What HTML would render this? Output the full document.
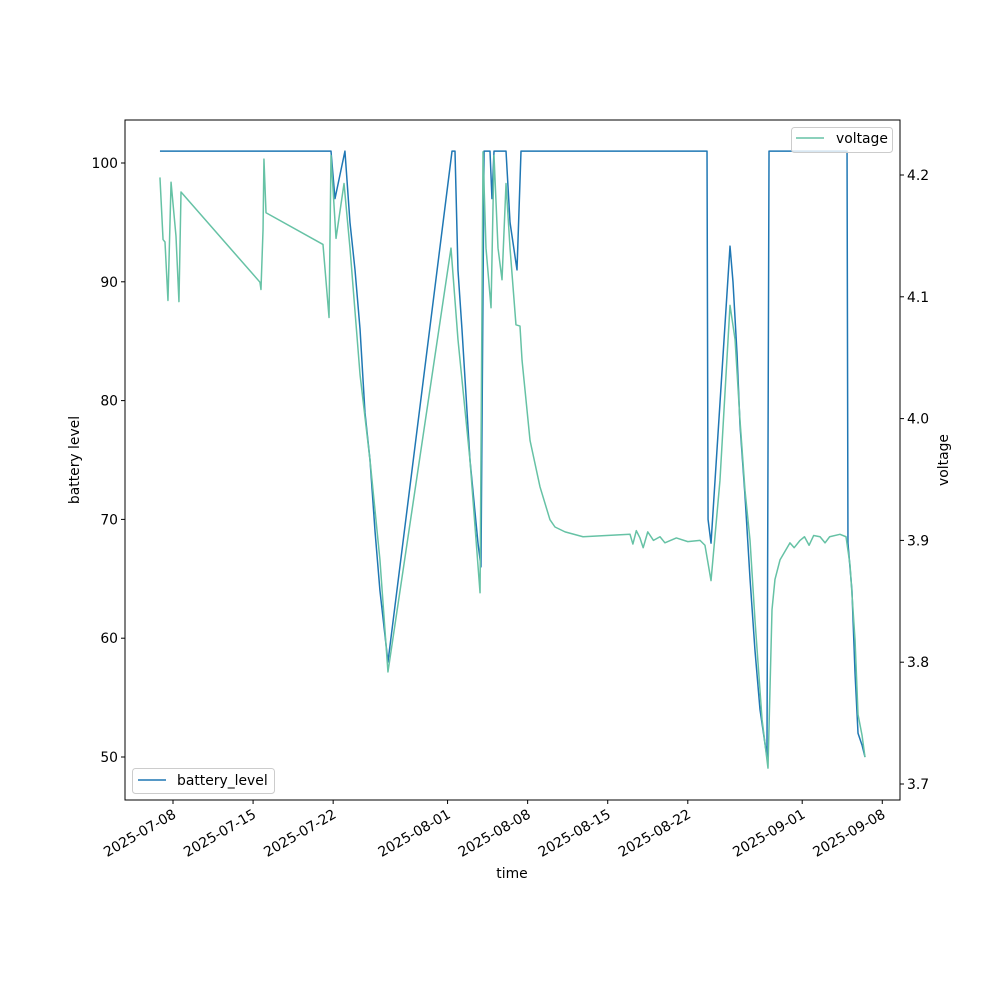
<!DOCTYPE html>
<html><head><meta charset="utf-8"><style>
body{margin:0;background:#fff}
svg{display:block;font-family:"DejaVu Sans","Liberation Sans",sans-serif}
</style></head><body>
<svg id="chart" width="1000" height="1000">
<rect width="1000" height="1000" fill="#fff"/>
<g id="plot"></g>
</svg>
<script>
const xTickDays=[0,7,14,24,31,38,45,55,62];
const xTickLabels=["2025-07-08","2025-07-15","2025-07-22","2025-08-01","2025-08-08","2025-08-15","2025-08-22","2025-09-01","2025-09-08"];
const leftTicks=[50,60,70,80,90,100];
const rightTicks=[3.7,3.8,3.9,4.0,4.1,4.2];
const batDays=[-1.14,13.81,14.16,15.03,15.47,15.91,16.35,16.78,17.22,17.66,18.09,18.79,24.39,24.65,24.91,25.26,25.96,26.66,26.92,27.19,27.71,27.88,28.06,29.11,29.46,30.07,30.42,46.68,46.77,47.03,48.69,48.95,49.30,49.56,50.00,50.44,50.87,51.31,51.92,52.10,58.92,59.00,59.35,59.62,59.88,60.23,60.49];
const batVals=[101,101,97,101,95,91,86,79,75,69,64,58,101,101,91,86,75,68,66,101,101,97,101,101,95,91,101,101,70,68,93,90,84,78,72,65,59,54,50,101,101,68,64,57,52,51,50];
const voltDays=[-1.14,-0.87,-0.70,-0.44,-0.17,0.26,0.52,0.70,7.60,7.69,7.87,7.95,8.13,13.11,13.64,13.81,14.25,14.95,15.47,16.35,17.22,18.09,18.79,24.30,24.91,25.96,26.84,27.10,27.36,27.80,28.06,28.41,28.76,29.11,29.46,29.98,30.33,30.51,31.21,32.08,32.95,33.39,34.27,35.84,39.95,40.2,40.5,40.82,41.1,41.5,42.0,42.57,43.0,44.0,45.0,46.07,46.50,47.03,47.81,48.69,49.13,49.56,50.00,50.44,50.87,51.49,52.01,52.36,52.62,53.06,53.93,54.3,54.81,55.2,55.6,56.0,56.56,57.0,57.4,58.30,58.83,59.18,59.62,59.88,60.23,60.49];
const voltVals=[4.198,4.147,4.145,4.097,4.194,4.15,4.096,4.186,4.112,4.106,4.155,4.213,4.169,4.143,4.083,4.216,4.148,4.193,4.14,4.036,3.966,3.884,3.792,4.140,4.065,3.966,3.857,4.219,4.14,4.091,4.216,4.14,4.114,4.193,4.14,4.077,4.076,4.048,3.982,3.944,3.917,3.911,3.907,3.903,3.905,3.897,3.908,3.902,3.894,3.907,3.900,3.903,3.898,3.902,3.899,3.900,3.896,3.867,3.949,4.093,4.065,3.999,3.941,3.900,3.835,3.753,3.713,3.843,3.868,3.884,3.898,3.894,3.900,3.903,3.896,3.904,3.903,3.898,3.903,3.905,3.903,3.880,3.818,3.757,3.740,3.722];

const L=125,R=900,T=120,B=800;
const xS=d=>173+d*11.44;
const yL=v=>163+(100-v)*11.88;
const yR=v=>175+(4.2-v)*1218;
const NS="http://www.w3.org/2000/svg";
const g=document.getElementById('plot');
function el(t,a,txt){const e=document.createElementNS(NS,t);for(const k in a)e.setAttribute(k,a[k]);if(txt!=null)e.textContent=txt;g.appendChild(e);return e;}
const FS=13.9;

const bl=el('polyline',{points:batDays.map((d,i)=>xS(d)+','+yL(batVals[i])).join(' '),fill:'none',stroke:'#1f77b4','stroke-width':1.5,'stroke-linejoin':'round'});


const vl=el('polyline',{points:voltDays.map((d,i)=>xS(d)+','+yR(voltVals[i])).join(' '),fill:'none',stroke:'#66c2a5','stroke-width':1.5,'stroke-linejoin':'round'});



const fr=el('rect',{x:L,y:T,width:R-L,height:B-T,fill:'none',stroke:'#000','stroke-width':1});



xTickDays.forEach((d,i)=>{const x=xS(d);
 el('line',{x1:x,x2:x,y1:B,y2:B+4,stroke:'#000'});
 const t=el('text',{x:x,y:B+18,'font-size':FS,'text-anchor':'end',transform:`rotate(-30 ${x} ${B+10})`},xTickLabels[i]);
 
 
});
leftTicks.forEach(v=>{const y=yL(v);
 el('line',{x1:L-4,x2:L,y1:y,y2:y,stroke:'#000'});
 const t=el('text',{x:L-7,y:y+5,'font-size':FS,'text-anchor':'end'},v);
 
 
});
rightTicks.forEach(v=>{const y=yR(v);
 el('line',{x1:R,x2:R+4,y1:y,y2:y,stroke:'#000'});
 const t=el('text',{x:R+7,y:y+5,'font-size':FS},v.toFixed(1));
 
 
});
const xt=el('text',{x:512,y:878,'font-size':FS,'text-anchor':'middle'},'time');


const yt=el('text',{x:79,y:460,'font-size':FS,'text-anchor':'middle',transform:'rotate(-90 79 460)'},'battery level');


const yt2=el('text',{x:948,y:460,'font-size':FS,'text-anchor':'middle',transform:'rotate(-90 948 460)'},'voltage');



const lg1=el('rect',{x:132.5,y:768.5,width:142,height:25,rx:3,fill:'#fff','fill-opacity':0.8,stroke:'#ccc'});


el('line',{x1:138,x2:166,y1:780,y2:780,stroke:'#1f77b4','stroke-width':1.5});
const lt1=el('text',{x:177,y:785,'font-size':FS},'battery_level');


const lg2=el('rect',{x:791.5,y:127.5,width:101,height:25,rx:3,fill:'#fff','fill-opacity':0.8,stroke:'#ccc'});


el('line',{x1:796,x2:824,y1:138,y2:138,stroke:'#66c2a5','stroke-width':1.5});
const lt2=el('text',{x:836,y:143,'font-size':FS},'voltage');


</script>
</body></html>
